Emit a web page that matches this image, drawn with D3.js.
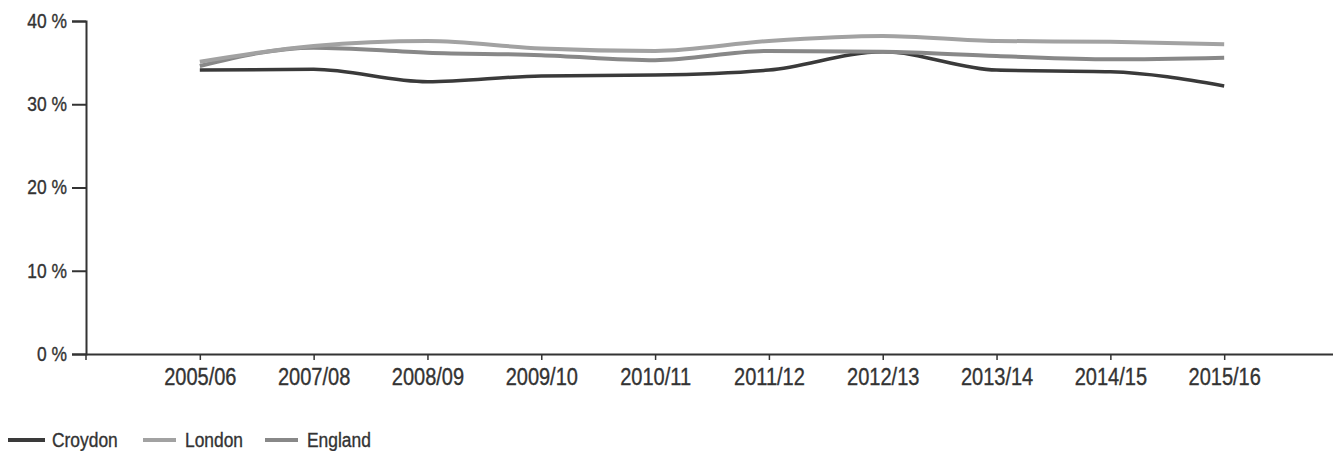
<!DOCTYPE html>
<html>
<head>
<meta charset="utf-8">
<script src="https://cdn.jsdelivr.net/npm/d3@7"></script>
<style>
  html, body { margin: 0; padding: 0; background: #fff; }
  svg { display: block; }
  text { font-family: "Liberation Sans", Arial, sans-serif; fill: #333; stroke: #333; stroke-width: 0.35px; }
</style>
</head>
<body>
<svg id="chart" width="1333" height="451"></svg>
<script>
const categories = ["2005/06","2007/08","2008/09","2009/10","2010/11","2011/12","2012/13","2013/14","2014/15","2015/16"];
const croydon = [34.1, 34.2, 32.7, 33.4, 33.5, 34.1, 36.3, 34.1, 33.9, 32.2];
const london  = [35.1, 37.0, 37.6, 36.7, 36.4, 37.6, 38.2, 37.6, 37.5, 37.2];
const england = [34.6, 36.8, 36.2, 35.9, 35.3, 36.4, 36.3, 35.8, 35.4, 35.6];
const yTicks = [0, 10, 20, 30, 40];
const seriesNames = ["Croydon", "London", "England"];

const series = [
  { name: seriesNames[0], values: croydon, color: "#3a3a3a", width: 3.5 },
  { name: seriesNames[1], values: london,  color: "#a2a2a2", width: 4 },
  { name: seriesNames[2], values: england, color: "#888888", width: 4 }
];

const SX = 0.87; // horizontal condensing of text

const svg = d3.select("#chart");
const x = d3.scalePoint().domain(categories).range([86, 1338]).padding(1);
const y = d3.scaleLinear().domain([0, 40]).range([354, 21]);

const line = d3.line()
  .x((d, i) => x(categories[i]))
  .y(d => y(d))
  .curve(d3.curveMonotoneX);

[series[0], series[2], series[1]].forEach(s => {
  svg.append("path")
    .datum(s.values)
    .attr("d", line)
    .attr("fill", "none")
    .attr("stroke", s.color)
    .attr("stroke-width", s.width)
    .attr("stroke-linejoin", "round");
});

// Y axis
const yAxis = d3.axisLeft(y).tickValues(yTicks).tickFormat(d => d + " %").tickSize(14).tickPadding(5);
const gy = svg.append("g").attr("transform", `translate(${x.range()[0]},0)`).call(yAxis);
gy.select(".domain").attr("stroke", "#333").attr("stroke-width", 2);
gy.selectAll(".tick line").attr("stroke", "#333").attr("stroke-width", 2);
gy.selectAll(".tick text")
  .attr("font-size", 20).attr("fill", "#333")
  .style("font-family", '"Liberation Sans", Arial, sans-serif')
  .attr("x", -19 / SX)
  .attr("transform", `scale(${SX},1)`);

// X axis
const xAxis = d3.axisBottom(x).tickSize(6).tickPadding(9).tickSizeOuter(0);
const gx = svg.append("g").attr("transform", `translate(0,${y(0)})`).call(xAxis);
gx.select(".domain").attr("stroke", "#333").attr("stroke-width", 2);
gx.selectAll(".tick line").attr("stroke", "#333").attr("stroke-width", 1.5);
gx.selectAll(".tick text")
  .attr("font-size", 23).attr("fill", "#333")
  .style("font-family", '"Liberation Sans", Arial, sans-serif')
  .attr("transform", `scale(${SX},1)`);
gx.append("line").attr("x1", x.range()[0]).attr("x2", x.range()[0]).attr("y1", 0).attr("y2", 6)
  .attr("stroke", "#333").attr("stroke-width", 1.5);

// Legend
const legendX = [8, 143, 265];
const legend = svg.append("g").attr("transform", "translate(0,440)");
series.forEach((s, i) => {
  const g = legend.append("g").attr("transform", `translate(${legendX[i]},0)`);
  g.append("line").attr("x1", 0).attr("x2", i === 0 ? 37 : 33).attr("y1", 0).attr("y2", 0)
    .attr("stroke", s.color).attr("stroke-width", 4);
  g.append("text")
    .attr("x", (i === 0 ? 44 : 42) / SX).attr("y", 7)
    .attr("font-size", 20)
    .attr("transform", `scale(${SX},1)`)
    .text(s.name);
});
</script>
</body>
</html>
